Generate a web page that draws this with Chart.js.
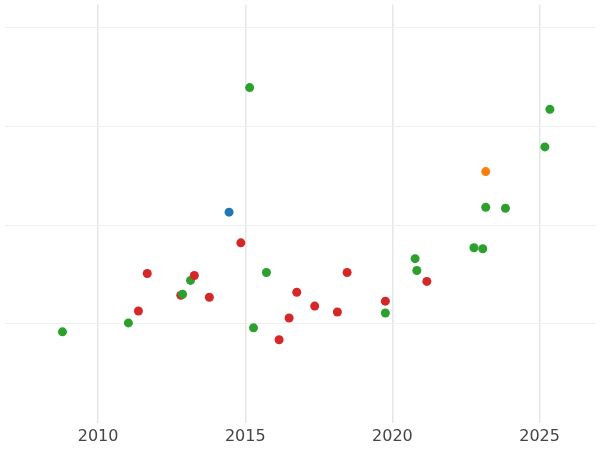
<!DOCTYPE html>
<html>
<head>
<meta charset="utf-8">
<script src="https://cdn.jsdelivr.net/npm/chart.js@4/dist/chart.umd.min.js"></script>
<style>
  body { margin: 0; background: #fff; }
  #wrap { width: 600px; height: 450px; }
</style>
</head>
<body>
<div id="wrap"><canvas id="chart"></canvas></div>
<script>
// Data (year, value, colour group)
const years = [2008.79, 2011.03, 2011.37, 2011.67, 2012.81, 2012.87, 2013.14, 2013.27, 2013.78, 2014.45,
  2014.85, 2015.15, 2015.28, 2015.72, 2016.15, 2016.49, 2016.75, 2017.36, 2018.13, 2018.46,
  2019.76, 2019.76, 2020.77, 2020.83, 2021.17, 2022.77, 2023.07, 2023.17, 2023.17, 2023.84,
  2025.18, 2025.35];
const values = [0.92, 1.01, 1.13, 1.51, 1.29, 1.30, 1.44, 1.49, 1.27, 2.13,
  1.82, 3.39, 0.96, 1.52, 0.84, 1.06, 1.32, 1.18, 1.12, 1.52,
  1.23, 1.11, 1.66, 1.54, 1.43, 1.77, 1.76, 2.54, 2.18, 2.17,
  2.79, 3.17];
const groups = ['g', 'g', 'r', 'r', 'r', 'g', 'g', 'r', 'r', 'b',
  'r', 'g', 'g', 'g', 'r', 'r', 'r', 'r', 'r', 'r',
  'r', 'g', 'g', 'g', 'r', 'g', 'g', 'o', 'g', 'g',
  'g', 'g'];
const xTicks = [2010, 2015, 2020, 2025];
const yTicks = [1, 2, 3, 4];

const groupColors = { b: '#1f77b4', o: '#ff7f0e', g: '#2ca02c', r: '#d62728' };

const points = years.map((x, i) => ({ x, y: values[i] }));

new Chart(document.getElementById('chart'), {
  type: 'scatter',
  data: {
    datasets: [{
      data: points,
      pointRadius: 4.5,
      pointHoverRadius: 4.5,
      borderWidth: 0,
      backgroundColor: groups.map(g => groupColors[g])
    }]
  },
  options: {
    responsive: true,
    maintainAspectRatio: false,
    animation: false,
    layout: { padding: 0 },
    plugins: { legend: { display: false }, tooltip: { enabled: false } },
    scales: {
      x: {
        type: 'linear',
        min: 2006.82,
        max: 2026.9,
        afterBuildTicks: axis => { axis.ticks = xTicks.map(v => ({ value: v })); },
        ticks: { color: '#444', font: { size: 16, family: 'DejaVu Sans' }, callback: v => String(v), padding: 4 },
        grid: { color: '#e6e6e6', lineWidth: 1.5, drawTicks: false },
        border: { display: false }
      },
      y: {
        min: 0,
        max: 4.23,
        afterBuildTicks: axis => { axis.ticks = yTicks.map(v => ({ value: v })); },
        ticks: { display: false },
        grid: { color: '#efefef', drawTicks: false },
        border: { display: false }
      }
    }
  }
});
</script>
</body>
</html>
